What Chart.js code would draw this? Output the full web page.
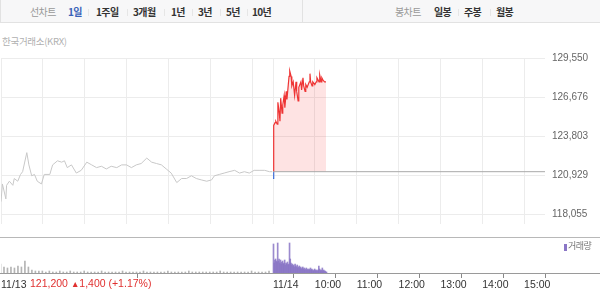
<!DOCTYPE html>
<html><head><meta charset="utf-8">
<script src="https://cdn.jsdelivr.net/npm/chart.js@4.4.0/dist/chart.umd.min.js"></script>
<style>
html,body{margin:0;padding:0;background:#fff;}
#wrap{position:relative;width:600px;height:306px;overflow:hidden;font-family:"Noto Sans CJK KR","Noto Sans",sans-serif;}
.bar{position:absolute;top:0;height:23px;background:#f7f7f8;border-bottom:1px solid #e2e2e2;box-sizing:border-box;}
.t{position:absolute;top:5px;font-size:10px;line-height:14px;white-space:nowrap;letter-spacing:-0.6px;color:#333;font-weight:bold;}
.g{color:#999;font-weight:normal;}
.b{color:#3a62b8;}
.sep{position:absolute;top:9px;width:1px;height:7px;background:#e6e6e6;}
.hl{position:absolute;left:0;width:600px;height:1px;}
canvas{position:absolute;left:0;}
</style></head>
<body><div id="wrap">
<div class="bar" style="left:0;width:302px;border-left:1px solid #e2e2e2;"></div>
<div class="bar" style="left:302px;width:298px;border-left:1px solid #e2e2e2;"></div>
<span class="t g" style="left:30px">선차트</span>
<span class="t b" style="left:68px">1일</span>
<div class="sep" style="left:88px"></div>
<span class="t" style="left:96px">1주일</span>
<div class="sep" style="left:127px"></div>
<span class="t" style="left:133px">3개월</span>
<div class="sep" style="left:164px"></div>
<span class="t" style="left:171px">1년</span>
<div class="sep" style="left:192px"></div>
<span class="t" style="left:198px">3년</span>
<div class="sep" style="left:220px"></div>
<span class="t" style="left:226px">5년</span>
<div class="sep" style="left:247px"></div>
<span class="t" style="left:252px">10년</span>
<span class="t g" style="left:395px">봉차트</span>
<span class="t" style="left:434px">일봉</span>
<div class="sep" style="left:458px"></div>
<span class="t" style="left:464px">주봉</span>
<div class="sep" style="left:490px"></div>
<span class="t" style="left:496px">월봉</span>
<span style="position:absolute;left:2px;top:34px;font-size:9.5px;color:#b0b0b0;letter-spacing:-0.3px;">한국거래소(KRX)</span>
<canvas id="main" width="600" height="192" style="top:45px"></canvas>
<canvas id="vol" width="600" height="69" style="top:237px"></canvas>
<div class="hl" style="top:237px;background:#b8b8b8"></div>
<div class="hl" style="top:273px;background:#9a9a9a"></div>
<div style="position:absolute;left:564px;top:244px;width:3px;height:7px;background:#8a76c6"></div>
<span style="position:absolute;left:568px;top:240px;font-size:9px;line-height:12px;color:#777;letter-spacing:-0.5px;">거래량</span>
<span style="position:absolute;left:30px;top:277px;font-family:'Liberation Sans',Arial,sans-serif;font-size:10.5px;line-height:13px;color:#e0302f;white-space:nowrap;">121,200 <span style="font-size:8.5px">▲</span>1,400 (+1.17%)</span>
</div>
<script>
// ---- data ----
const PREV_CLOSE = 121200;
const day1Minutes = [0,2,7,8,12,17,19,24,28,31,37,40,44,48,52,58,62,70,74,81,87,91,95,101,108,115,123,130,137,144,151,158,166,173,180,187,194,201,209,216,223,230,237,244,252,259,266,273,280,287,295,302,306,313,320,327,335,342,349,356,363,370,378,385,389];
const day1Prices = [119000,120300,119200,120200,120500,120200,120700,120500,121000,121200,122600,121700,120900,121000,120500,120300,121000,121000,121700,122000,121900,122000,121500,121700,121100,121300,121900,121700,121500,121600,121400,121600,121500,121700,121700,121500,121700,121800,122200,121900,121800,121700,121400,121100,120400,120700,120700,120900,120700,120600,120500,120600,120900,121000,121100,121200,121300,121100,121200,121100,121300,121300,121300,121200,121200];
const day2Minutes = [390,391,393,394,396,397,399,400,401,403,404,406,407,409,410,413,414,416,417,419,421,423,424,426,427,430,431,433,434,436,437,439,442,443,444,446,447,450,452,453,456,457,459,460,462,464,466];
const day2Prices = [120700,124600,124800,124900,124700,126300,125500,124900,126600,125500,126100,126800,125900,127100,126500,128200,128600,128200,127500,127800,126800,127800,127100,126400,127400,127800,127200,128100,127500,127100,127600,127400,127800,128400,127800,127500,127800,127600,127800,128100,127800,128300,127800,128100,127900,127800,127800];
// volume: 11/13 every 5 minutes from 0, 11/14 every minute from 390
const day1VolStart = 0, day1VolStep = 5;
const day1Volume = [18000,12000,10000,12000,10000,14000,12000,24000,12000,6000,4000,4000,4000,2000,4000,2000,2000,4000,2000,2000,4000,2000,2000,2000,4000,2000,2000,2000,2000,4000,2000,2000,2000,2000,2000,4000,2000,2000,2000,2000,2000,4000,2000,2000,2000,2000,2000,2000,4000,2000,2000,2000,2000,2000,4000,2000,2000,2000,2000,2000,2000,2000,2000,4000,2000,2000,2000,2000,2000,2000,2000,2000,4000,2000,2000,2000,2000,4000];
const day2VolStart = 390;
const day2Volume = [58000,20000,26000,28000,24000,22000,60000,24000,28000,20000,26000,18000,22000,24000,18000,20000,26000,16000,20000,18000,22000,16000,18000,60000,28000,20000,16000,18000,14000,16000,12000,18000,14000,12000,16000,10000,12000,14000,10000,12000,8000,10000,12000,8000,10000,6000,8000,10000,6000,8000,6000,8000,6000,10000,6000,8000,6000,4000,6000,8000,6000,4000,6000,4000,6000,14000,8000,6000,4000,6000,10000,4000,6000,4000,4000,2000,2000];
const xGridMinutes = [0,60,120,180,240,300,360,390,450,510,570,630,690,750];
const xTickMinutes = [0,390,450,510,570,630,690,750];
const xTickLabels = ['11/13','11/14','10:00','11:00','12:00','13:00','14:00','15:00'];
const yTickValues = [118055,120928.75,123802.5,126676.25,129550];
const yTickLabels = ['118,055','120,929','123,803','126,676','129,550'];
const Y_MIN = 117359, Y_MAX = 129550, X_MAX = 780, VOL_MAX = 70000;

const RED = '#ee3434', BLUE = '#3d6fd8';
const num = "'Liberation Sans', Arial, sans-serif";

function splitColor(context){
  const chart = context.chart; const {ctx, chartArea, scales} = chart;
  if (!chartArea) return RED;
  const yb = scales.y.getPixelForValue(PREV_CLOSE);
  const f = Math.min(Math.max((yb - chartArea.top) / (chartArea.bottom - chartArea.top), 0), 1);
  const g = ctx.createLinearGradient(0, chartArea.top, 0, chartArea.bottom);
  g.addColorStop(0, RED); g.addColorStop(f, RED); g.addColorStop(f, BLUE); g.addColorStop(1, BLUE);
  return g;
}

new Chart(document.getElementById('main'), {
  type: 'line',
  data: {
    datasets: [
      { data: day1Minutes.map((m,i)=>({x:m, y:day1Prices[i]})), borderColor:'#c8c8c8', borderWidth:1, pointRadius:0, fill:false },
      { data: [{x:390,y:PREV_CLOSE},{x:X_MAX,y:PREV_CLOSE}], borderColor:'#a8a8a8', borderWidth:1, pointRadius:0, fill:false },
      { data: day2Minutes.map((m,i)=>({x:m, y:day2Prices[i]})), borderColor: splitColor, borderWidth:1.2, pointRadius:0,
        fill: {value: PREV_CLOSE, above:'rgba(245,60,60,0.14)', below:'rgba(60,110,220,0.14)'} }
    ]
  },
  options: {
    responsive:false, animation:false, devicePixelRatio:1,
    layout:{padding:{top:12,left:1,right:0,bottom:0}},
    plugins:{legend:{display:false}, tooltip:{enabled:false}},
    scales:{
      x:{ type:'linear', min:0, max:X_MAX,
          afterBuildTicks: s => { s.ticks = xGridMinutes.map(v=>({value:v})); },
          afterFit: s => { s.height = 0; },
          ticks:{display:false}, grid:{color:'#ececec', drawTicks:false}, border:{display:false} },
      y:{ position:'right', min:Y_MIN, max:Y_MAX,
          afterBuildTicks: s => { s.ticks = yTickValues.map(v=>({value:v})); },
          afterFit: s => { s.width = 55; },
          ticks:{ padding:7, color:'#666', font:{family:num, size:10}, callback:(v,i)=>yTickLabels[i] },
          grid:{color:'#ececec', drawTicks:false}, border:{display:false} }
    }
  }
});

new Chart(document.getElementById('vol'), {
  type: 'bar',
  data: {
    datasets: [
      { data: day1Volume.map((v,i)=>({x:day1VolStart + i*day1VolStep, y:v})), backgroundColor:'#b4b4b4', barThickness:1 },
      { data: day2Volume.map((v,i)=>({x:day2VolStart + i, y:v})), backgroundColor:'rgba(138,118,198,0.85)', barThickness:1 }
    ]
  },
  options: {
    responsive:false, animation:false, devicePixelRatio:1,
    layout:{padding:{top:1,left:1,right:55,bottom:0}},
    plugins:{legend:{display:false}, tooltip:{enabled:false}},
    scales:{
      x:{ type:'linear', min:0, max:X_MAX, offset:false,
          afterBuildTicks: s => { s.ticks = xTickMinutes.map(v=>({value:v})); },
          afterFit: s => { s.height = 33; },
          ticks:{ align:'start', maxRotation:0, autoSkip:false, padding:1, color:'#333', font:{family:num, size:10.5},
                  callback:(v)=>xTickLabels[xTickMinutes.indexOf(v)] },
          grid:{ drawOnChartArea:false, drawTicks:true, tickLength:5, color:'#888' }, border:{display:false} },
      y:{ display:false, min:0, max:VOL_MAX }
    }
  }
});
</script>
</body></html>
